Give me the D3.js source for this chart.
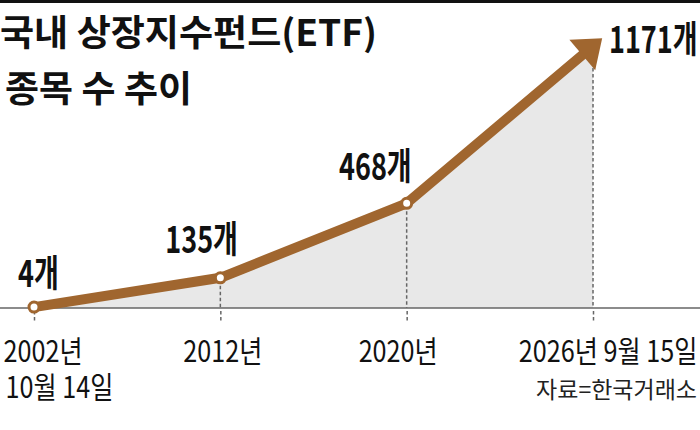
<!DOCTYPE html>
<html>
<head>
<meta charset="utf-8">
<script src="https://cdn.jsdelivr.net/npm/d3@7"></script>
<style>
  html, body { margin: 0; padding: 0; background: #fff; }
  svg { display: block; }
</style>
</head>
<body>
<script>
// 데이터
var categories = ['2002-10-14', '2012', '2020', '2026-09-15'];
var values = [4, 135, 468, 1171];
var valueLabels = ['4개', '135개', '468개', '1171개'];
var tickLabels = [['2002년', '10월 14일'], ['2012년'], ['2020년'], ['2026년 9월 15일']];
var titleLines = ['국내 상장지수펀드(ETF)', '종목 수 추이'];
var sourceText = '자료=한국거래소';

var width = 700;
var height = 430;
var axisY = 308;
var brown = '#a0662f';
var font = "'Noto Sans CJK KR', 'Noto Sans', sans-serif";

var svg = d3.select('body')
    .append('svg')
    .attr('width', width)
    .attr('height', height);

svg.append('rect')
    .attr('width', width)
    .attr('height', height)
    .attr('fill', '#fff');

// 상단 굵은 선
svg.append('rect')
    .attr('x', 0).attr('y', 0)
    .attr('width', width).attr('height', 3)
    .attr('fill', '#111');

// 제목
var titleLayout = [{x: 0, y: 46, len: 377}, {x: 5, y: 102, len: 187}];
svg.selectAll('text.title')
    .data(titleLines)
    .enter()
    .append('text')
    .attr('class', 'title')
    .attr('x', (d, i) => titleLayout[i].x)
    .attr('y', (d, i) => titleLayout[i].y)
    .attr('textLength', (d, i) => titleLayout[i].len)
    .attr('lengthAdjust', 'spacingAndGlyphs')
    .attr('font-family', font)
    .attr('font-weight', 700)
    .attr('font-size', 36)
    .attr('fill', '#111')
    .text(d => d);

// 스케일
var xscale = d3.scalePoint()
    .domain(categories)
    .range([34, 593]);

var yscale = d3.scaleLinear()
    .domain([0, 1171])
    .range([axisY, 46]);

var pts = categories.map((c, i) => ({cat: c, value: values[i], x: xscale(c), y: yscale(values[i])}));

// 회색 면적
var area = d3.area()
    .x(d => d.x)
    .y0(yscale(0))
    .y1(d => d.y);

svg.append('path')
    .datum(pts)
    .attr('d', area)
    .attr('fill', '#e8e8e8');

// 점선
var last = pts.length - 1;
svg.selectAll('line.guide')
    .data(pts)
    .enter()
    .append('line')
    .attr('class', 'guide')
    .attr('x1', d => d.x)
    .attr('x2', d => d.x)
    .attr('y1', (d, i) => i === last ? d.y + 22 : Math.min(d.y + 8, axisY))
    .attr('y2', axisY)
    .attr('stroke', '#666')
    .attr('stroke-width', 1.5)
    .attr('stroke-dasharray', '3.5,2.5');

// 기준선
svg.append('line')
    .attr('x1', 0).attr('x2', width)
    .attr('y1', axisY).attr('y2', axisY)
    .attr('stroke', '#666')
    .attr('stroke-width', 1.3);

// x축 (눈금은 점선)
var xaxis = d3.axisBottom(xscale)
    .tickSizeInner(14)
    .tickSizeOuter(0)
    .tickFormat('');

var gx = svg.append('g')
    .attr('transform', 'translate(0,' + axisY + ')')
    .call(xaxis);

gx.select('.domain').remove();
gx.selectAll('.tick line')
    .attr('stroke', '#666')
    .attr('stroke-width', 1.5)
    .attr('stroke-dasharray', '3.5,2.5')
    .attr('y1', 3);

var tickLayout = [
    {dx: -31, anchor: 'start'},
    {dx: 2, anchor: 'middle'},
    {dx: -9, anchor: 'middle'},
    {dx: 104, anchor: 'end'}
];
var kTick = 0.84;

gx.selectAll('.tick').each(function(c) {
    var i = categories.indexOf(c);
    var t = d3.select(this).append('text')
        .attr('transform', 'translate(' + tickLayout[i].dx + ',54) scale(' + kTick + ',1)')
        .attr('text-anchor', tickLayout[i].anchor)
        .attr('font-family', font)
        .attr('font-weight', 400)
        .attr('font-size', 30)
        .attr('fill', '#111');
    tickLabels[i].forEach(function(line, j) {
        t.append('tspan')
            .attr('x', j ? 2.5 : 0)
            .attr('y', j * 36)
            .text(line);
    });
});

// 선과 화살표
var ux = pts[last].x - pts[last - 1].x;
var uy = pts[last].y - pts[last - 1].y;
var ul = Math.sqrt(ux * ux + uy * uy);
ux /= ul; uy /= ul;
var tip = [pts[last].x + 12 * ux, pts[last].y + 12 * uy];
var base = [tip[0] - 26 * ux, tip[1] - 26 * uy];
var head = [
    tip,
    [base[0] - 20 * uy, base[1] + 20 * ux],
    [base[0] + 20 * uy, base[1] - 20 * ux]
];

var line = d3.line()
    .x(d => d.x)
    .y(d => d.y);

svg.append('path')
    .datum(pts)
    .attr('d', line)
    .attr('fill', 'none')
    .attr('stroke', brown)
    .attr('stroke-width', 10)
    .attr('stroke-linejoin', 'round')
    .attr('stroke-linecap', 'round');

svg.append('path')
    .attr('d', 'M' + head.map(p => p.join(',')).join('L') + 'Z')
    .attr('fill', brown);

// 점
svg.selectAll('circle')
    .data(pts.slice(0, last))
    .enter()
    .append('circle')
    .attr('cx', d => d.x)
    .attr('cy', d => d.y)
    .attr('r', 5)
    .attr('fill', '#fff')
    .attr('stroke', brown)
    .attr('stroke-width', 3);

// 값 라벨
var labelLayout = [
    {dx: -16, dy: -20, anchor: 'start'},
    {dx: -55, dy: -25, anchor: 'start'},
    {dx: 5, dy: -23, anchor: 'end'},
    {dx: 16, dy: 7, anchor: 'start'}
];
var kVal = 0.73;

svg.selectAll('text.val')
    .data(pts)
    .enter()
    .append('text')
    .attr('class', 'val')
    .attr('transform', (d, i) => 'translate(' + (d.x + labelLayout[i].dx) + ',' + (d.y + labelLayout[i].dy) + ') scale(' + kVal + ',1)')
    .attr('text-anchor', (d, i) => labelLayout[i].anchor)
    .attr('font-family', font)
    .attr('font-weight', 700)
    .attr('font-size', 37)
    .attr('fill', '#111')
    .text((d, i) => valueLabels[i]);

// 출처
svg.append('text')
    .attr('transform', 'translate(697,398)')
    .attr('text-anchor', 'end')
    .attr('font-family', font)
    .attr('font-size', 23)
    .attr('fill', '#222')
    .text(sourceText);
</script>
</body>
</html>
